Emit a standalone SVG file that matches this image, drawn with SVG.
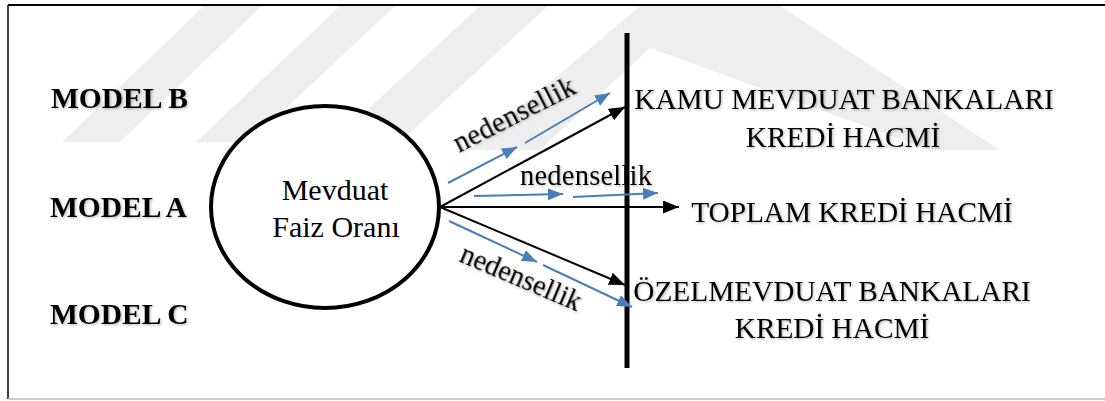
<svg xmlns="http://www.w3.org/2000/svg" width="1105" height="401" viewBox="0 0 1105 401">
  <defs>
    <style>
      .serif { font-family: "Liberation Serif", "Times New Roman", serif; fill: #000; }
      .model { font-size: 29.5px; font-weight: bold; }
      .target { font-size: 29.3px; text-anchor: middle; }
      .node-text { font-size: 30px; text-anchor: middle; }
      .rel { font-size: 28.5px; }
      .arrow-k { stroke: #000; stroke-width: 2; fill: none; marker-end: url(#headK); }
      .arrow-b { stroke: #4a7ebb; stroke-width: 2; fill: none; marker-end: url(#headB); }
      .mark { fill: #eeeeee; }
      .shadowed { filter: url(#soft); }
    </style>
    <filter id="soft" x="-5%" y="-20%" width="110%" height="140%">
      <feDropShadow dx="1.2" dy="1.2" stdDeviation="0.8" flood-color="#000" flood-opacity="0.28"/>
    </filter>
    <marker id="headK" markerUnits="userSpaceOnUse" markerWidth="17" markerHeight="13" refX="16" refY="6.5" orient="auto">
      <path d="M0,0 L16,6.5 L0,13 Z" fill="#000"/>
    </marker>
    <marker id="headB" markerUnits="userSpaceOnUse" markerWidth="16" markerHeight="12" refX="15" refY="6" orient="auto">
      <path d="M0,0 L15,6 L0,12 Z" fill="#4a7ebb"/>
    </marker>
  </defs>

  <rect x="0" y="0" width="1105" height="401" fill="#fff"/>

  <!-- faint background emblem stripes -->
  <g id="emblem">
    <polygon class="mark" points="62,142 120,142 262,6 204,6"/>
    <polygon class="mark" points="196,142 250,142 395,6 340,6"/>
    <polygon class="mark" points="332,142 400,142 548,6 480,6"/>
    <polygon class="mark" points="470,150 540,150 650,48 700,6 640,6"/>
    <polygon class="mark" points="650,48 700,6 780,6 1000,150 930,150"/>
  </g>

  <!-- frame -->
  <g id="frame">
    <line x1="8" y1="5" x2="1105" y2="5" stroke="#000" stroke-width="2"/>
    <line x1="8" y1="5" x2="8" y2="399" stroke="#000" stroke-width="1.5"/>
    <line x1="8" y1="399" x2="1105" y2="399" stroke="#bbbbbb" stroke-width="1.5"/>
  </g>

  <!-- model labels -->
  <g id="model-b"><text class="serif model shadowed" x="51" y="108">MODEL B</text></g>
  <g id="model-a"><text class="serif model shadowed" x="50" y="217">MODEL A</text></g>
  <g id="model-c"><text class="serif model shadowed" x="50" y="324">MODEL C</text></g>

  <!-- source node -->
  <g id="mevduat-faiz">
    <ellipse cx="325" cy="207" rx="114" ry="101" fill="#fff" stroke="#000" stroke-width="4"/>
    <text class="serif node-text" x="335" y="200">Mevduat</text>
    <text class="serif node-text" x="336" y="237">Faiz Oranı</text>
  </g>

  <!-- dividing bar -->
  <g id="divider">
    <line x1="627" y1="33" x2="627" y2="368" stroke="#000" stroke-width="5"/>
  </g>

  <!-- connectors -->
  <g id="connectors">
    <line class="arrow-k" x1="440" y1="207" x2="625" y2="107"/>
    <line class="arrow-k" x1="440" y1="207" x2="679" y2="207"/>
    <line class="arrow-k" x1="440" y1="207" x2="625" y2="285"/>

    <line class="arrow-b" x1="448" y1="183" x2="517" y2="147"/>
    <line class="arrow-b" x1="525" y1="143" x2="610" y2="93"/>

    <line class="arrow-b" x1="474" y1="196" x2="563" y2="194"/>
    <line class="arrow-b" x1="573" y1="197" x2="658" y2="193"/>

    <line class="arrow-b" x1="449" y1="221" x2="537" y2="262"/>
    <line class="arrow-b" x1="543" y1="265" x2="632" y2="307"/>

    <text class="serif rel shadowed" transform="translate(459,153) rotate(-27)" textLength="133" lengthAdjust="spacing">nedensellik</text>
    <text class="serif rel shadowed" x="520" y="185" textLength="132" lengthAdjust="spacing">nedensellik</text>
    <text class="serif rel shadowed" transform="translate(458,261) rotate(23)" textLength="129" lengthAdjust="spacing">nedensellik</text>
  </g>

  <!-- target nodes -->
  <g id="kamu">
    <text class="serif target shadowed" x="844" y="109">KAMU MEVDUAT BANKALARI</text>
    <text class="serif target shadowed" x="843" y="147">KREDİ HACMİ</text>
  </g>
  <g id="toplam">
    <text class="serif target shadowed" x="852" y="222">TOPLAM KREDİ HACMİ</text>
  </g>
  <g id="ozel">
    <text class="serif target shadowed" x="832" y="301">ÖZELMEVDUAT BANKALARI</text>
    <text class="serif target shadowed" x="832" y="338">KREDİ HACMİ</text>
  </g>
</svg>
